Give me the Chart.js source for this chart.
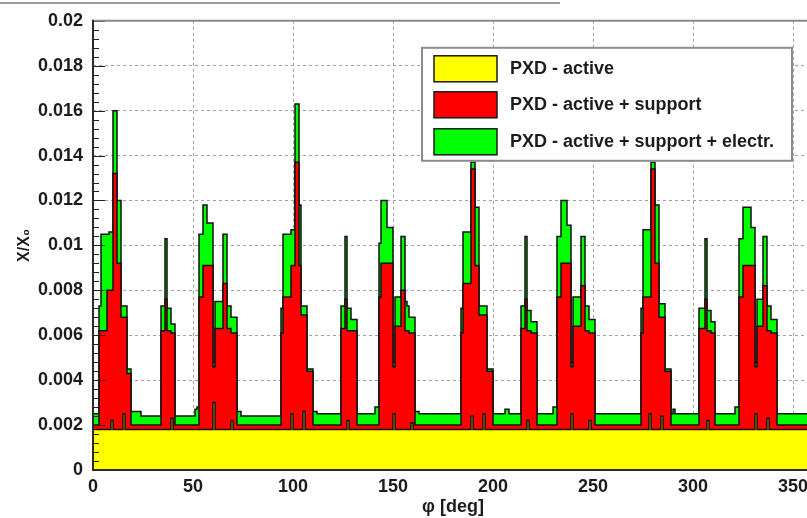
<!DOCTYPE html>
<html>
<head>
<meta charset="utf-8">
<script src="https://cdn.jsdelivr.net/npm/chart.js@4.4.1/dist/chart.umd.min.js"></script>
<style>
  html, body { margin: 0; padding: 0; background: #ffffff; overflow: hidden; }
  #wrap { position: relative; width: 822px; height: 518px; }
</style>
</head>
<body>
<div id="wrap"><canvas id="chart"></canvas></div>
<script>
// Material budget of the PXD versus azimuthal angle phi, in units of X0.
// One-degree bins, lower edges 0..359.
const BIN_WIDTH = 1;

const seriesLabels = [
  'PXD - active',
  'PXD - active + support',
  'PXD - active + support + electr.'
];

// PXD - active (sensitive silicon only)
const activeX0 = [
  0.0018,0.0018,0.0018,0.0018,0.0018,0.0018,0.0018,0.0018,0.0018,0.0018,
  0.0022,0.0018,0.0018,0.0018,0.0018,0.0018,0.0025,0.0018,0.0018,0.0018,
  0.0018,0.0018,0.0018,0.0018,0.0018,0.0018,0.0018,0.0018,0.0018,0.0018,
  0.0018,0.0018,0.0018,0.0018,0.0018,0.0018,0.0018,0.0018,0.0018,0.0018,
  0.0023,0.0018,0.0018,0.0018,0.0018,0.0018,0.0018,0.0018,0.0018,0.0018,
  0.0018,0.0018,0.0018,0.0018,0.0018,0.0018,0.0018,0.0018,0.0018,0.0018,
  0.0018,0.0030,0.0018,0.0018,0.0018,0.0018,0.0018,0.0018,0.0018,0.0018,
  0.0022,0.0018,0.0018,0.0018,0.0018,0.0018,0.0018,0.0018,0.0018,0.0018,
  0.0018,0.0018,0.0018,0.0018,0.0018,0.0018,0.0018,0.0018,0.0018,0.0018,
  0.0018,0.0018,0.0018,0.0018,0.0018,0.0018,0.0018,0.0018,0.0018,0.0018,
  0.0025,0.0018,0.0018,0.0018,0.0018,0.0018,0.0026,0.0018,0.0018,0.0018,
  0.0018,0.0018,0.0018,0.0018,0.0018,0.0018,0.0018,0.0018,0.0018,0.0018,
  0.0018,0.0018,0.0018,0.0018,0.0018,0.0018,0.0018,0.0018,0.0022,0.0018,
  0.0018,0.0018,0.0018,0.0018,0.0018,0.0018,0.0018,0.0018,0.0018,0.0018,
  0.0018,0.0018,0.0018,0.0018,0.0018,0.0018,0.0018,0.0018,0.0018,0.0018,
  0.0018,0.0025,0.0018,0.0018,0.0018,0.0018,0.0018,0.0018,0.0018,0.0018,
  0.0021,0.0018,0.0018,0.0018,0.0018,0.0018,0.0018,0.0018,0.0018,0.0018,
  0.0018,0.0018,0.0018,0.0018,0.0018,0.0018,0.0018,0.0018,0.0018,0.0018,
  0.0018,0.0018,0.0018,0.0018,0.0018,0.0018,0.0018,0.0018,0.0018,0.0018,
  0.0024,0.0018,0.0018,0.0018,0.0018,0.0018,0.0025,0.0018,0.0018,0.0018,
  0.0018,0.0018,0.0018,0.0018,0.0018,0.0018,0.0018,0.0018,0.0018,0.0018,
  0.0018,0.0018,0.0018,0.0018,0.0018,0.0018,0.0018,0.0018,0.0022,0.0018,
  0.0018,0.0018,0.0018,0.0018,0.0018,0.0018,0.0018,0.0018,0.0018,0.0018,
  0.0018,0.0018,0.0018,0.0018,0.0018,0.0018,0.0018,0.0018,0.0018,0.0018,
  0.0025,0.0018,0.0018,0.0018,0.0018,0.0018,0.0018,0.0018,0.0018,0.0022,
  0.0018,0.0018,0.0018,0.0018,0.0018,0.0018,0.0018,0.0018,0.0018,0.0018,
  0.0018,0.0018,0.0018,0.0018,0.0018,0.0018,0.0018,0.0018,0.0018,0.0018,
  0.0018,0.0018,0.0018,0.0018,0.0018,0.0018,0.0018,0.0018,0.0018,0.0025,
  0.0018,0.0018,0.0018,0.0018,0.0018,0.0024,0.0018,0.0018,0.0018,0.0018,
  0.0018,0.0018,0.0018,0.0018,0.0018,0.0018,0.0018,0.0018,0.0018,0.0018,
  0.0018,0.0018,0.0018,0.0018,0.0018,0.0018,0.0018,0.0018,0.0022,0.0018,
  0.0018,0.0018,0.0018,0.0018,0.0018,0.0018,0.0018,0.0018,0.0018,0.0018,
  0.0018,0.0018,0.0018,0.0018,0.0018,0.0018,0.0018,0.0018,0.0018,0.0018,
  0.0018,0.0018,0.0025,0.0018,0.0018,0.0018,0.0018,0.0018,0.0023,0.0018,
  0.0018,0.0018,0.0018,0.0018,0.0018,0.0018,0.0018,0.0018,0.0018,0.0018,
  0.0018,0.0018,0.0018,0.0018,0.0018,0.0018,0.0018,0.0018,0.0018,0.0018
];

// PXD - active + support
const supportX0 = [
  0.0020,0.0020,0.0020,0.0020,0.0062,0.0062,0.0062,0.0062,0.0080,0.0080,
  0.0080,0.0132,0.0132,0.0092,0.0092,0.0068,0.0068,0.0068,0.0043,0.0043,
  0.0020,0.0020,0.0020,0.0020,0.0020,0.0020,0.0020,0.0020,0.0020,0.0020,
  0.0020,0.0020,0.0020,0.0020,0.0020,0.0062,0.0062,0.0076,0.0062,0.0062,
  0.0061,0.0061,0.0020,0.0020,0.0020,0.0020,0.0020,0.0020,0.0020,0.0020,
  0.0020,0.0020,0.0020,0.0020,0.0077,0.0077,0.0091,0.0091,0.0091,0.0091,
  0.0091,0.0046,0.0063,0.0063,0.0063,0.0063,0.0083,0.0083,0.0063,0.0063,
  0.0061,0.0061,0.0061,0.0020,0.0020,0.0020,0.0020,0.0020,0.0020,0.0020,
  0.0020,0.0020,0.0020,0.0020,0.0020,0.0020,0.0020,0.0020,0.0020,0.0020,
  0.0020,0.0020,0.0020,0.0020,0.0020,0.0061,0.0077,0.0077,0.0077,0.0077,
  0.0091,0.0091,0.0137,0.0137,0.0091,0.0069,0.0069,0.0069,0.0044,0.0044,
  0.0044,0.0020,0.0020,0.0020,0.0020,0.0020,0.0020,0.0020,0.0020,0.0020,
  0.0020,0.0020,0.0020,0.0020,0.0020,0.0063,0.0063,0.0076,0.0062,0.0062,
  0.0062,0.0062,0.0062,0.0020,0.0020,0.0020,0.0020,0.0020,0.0020,0.0020,
  0.0020,0.0020,0.0020,0.0020,0.0077,0.0092,0.0092,0.0092,0.0092,0.0092,
  0.0092,0.0046,0.0064,0.0064,0.0064,0.0080,0.0080,0.0062,0.0062,0.0061,
  0.0061,0.0061,0.0020,0.0020,0.0020,0.0020,0.0020,0.0020,0.0020,0.0020,
  0.0020,0.0020,0.0020,0.0020,0.0020,0.0020,0.0020,0.0020,0.0020,0.0020,
  0.0020,0.0020,0.0020,0.0020,0.0020,0.0061,0.0083,0.0083,0.0083,0.0083,
  0.0134,0.0134,0.0091,0.0091,0.0069,0.0069,0.0069,0.0069,0.0044,0.0044,
  0.0044,0.0020,0.0020,0.0020,0.0020,0.0020,0.0020,0.0020,0.0020,0.0020,
  0.0020,0.0020,0.0020,0.0020,0.0020,0.0063,0.0063,0.0076,0.0062,0.0062,
  0.0061,0.0061,0.0061,0.0020,0.0020,0.0020,0.0020,0.0020,0.0020,0.0020,
  0.0020,0.0020,0.0020,0.0077,0.0077,0.0092,0.0092,0.0092,0.0092,0.0092,
  0.0046,0.0064,0.0064,0.0064,0.0064,0.0082,0.0082,0.0062,0.0062,0.0061,
  0.0061,0.0061,0.0020,0.0020,0.0020,0.0020,0.0020,0.0020,0.0020,0.0020,
  0.0020,0.0020,0.0020,0.0020,0.0020,0.0020,0.0020,0.0020,0.0020,0.0020,
  0.0020,0.0020,0.0020,0.0020,0.0020,0.0061,0.0077,0.0077,0.0077,0.0077,
  0.0134,0.0134,0.0092,0.0092,0.0068,0.0068,0.0068,0.0044,0.0044,0.0044,
  0.0020,0.0020,0.0020,0.0020,0.0020,0.0020,0.0020,0.0020,0.0020,0.0020,
  0.0020,0.0020,0.0020,0.0020,0.0063,0.0063,0.0063,0.0076,0.0062,0.0062,
  0.0061,0.0061,0.0020,0.0020,0.0020,0.0020,0.0020,0.0020,0.0020,0.0020,
  0.0020,0.0020,0.0020,0.0020,0.0077,0.0077,0.0091,0.0091,0.0091,0.0091,
  0.0091,0.0091,0.0046,0.0064,0.0064,0.0064,0.0082,0.0082,0.0062,0.0062,
  0.0061,0.0061,0.0061,0.0020,0.0020,0.0020,0.0020,0.0020,0.0020,0.0020,
  0.0020,0.0020,0.0020,0.0020,0.0020,0.0020,0.0020,0.0020,0.0020,0.0020
];

// PXD - active + support + electronics
const electrX0 = [
  0.0025,0.0025,0.0025,0.0025,0.0073,0.0105,0.0105,0.0105,0.0105,0.0106,
  0.0106,0.0160,0.0160,0.0120,0.0120,0.0073,0.0073,0.0073,0.0045,0.0045,
  0.0026,0.0026,0.0026,0.0026,0.0026,0.0024,0.0024,0.0024,0.0024,0.0024,
  0.0024,0.0024,0.0024,0.0024,0.0024,0.0073,0.0073,0.0103,0.0072,0.0072,
  0.0065,0.0065,0.0024,0.0024,0.0024,0.0024,0.0024,0.0024,0.0024,0.0024,
  0.0024,0.0024,0.0027,0.0028,0.0105,0.0105,0.0118,0.0118,0.0110,0.0110,
  0.0110,0.0048,0.0075,0.0075,0.0075,0.0075,0.0105,0.0105,0.0073,0.0073,
  0.0068,0.0068,0.0068,0.0026,0.0026,0.0024,0.0024,0.0024,0.0024,0.0024,
  0.0024,0.0024,0.0024,0.0024,0.0024,0.0024,0.0024,0.0024,0.0024,0.0024,
  0.0024,0.0024,0.0024,0.0024,0.0024,0.0072,0.0105,0.0105,0.0105,0.0105,
  0.0107,0.0107,0.0163,0.0163,0.0118,0.0073,0.0073,0.0073,0.0045,0.0045,
  0.0045,0.0026,0.0026,0.0025,0.0025,0.0025,0.0025,0.0025,0.0025,0.0025,
  0.0025,0.0025,0.0025,0.0025,0.0025,0.0073,0.0073,0.0104,0.0072,0.0072,
  0.0067,0.0067,0.0067,0.0025,0.0025,0.0025,0.0025,0.0025,0.0025,0.0025,
  0.0025,0.0025,0.0028,0.0028,0.0101,0.0120,0.0120,0.0120,0.0108,0.0108,
  0.0108,0.0048,0.0077,0.0077,0.0077,0.0104,0.0104,0.0075,0.0073,0.0068,
  0.0068,0.0068,0.0026,0.0026,0.0025,0.0025,0.0025,0.0025,0.0025,0.0025,
  0.0025,0.0025,0.0025,0.0025,0.0025,0.0025,0.0025,0.0025,0.0025,0.0025,
  0.0025,0.0025,0.0025,0.0025,0.0025,0.0072,0.0106,0.0106,0.0106,0.0106,
  0.0137,0.0137,0.0117,0.0117,0.0073,0.0073,0.0073,0.0073,0.0045,0.0045,
  0.0045,0.0025,0.0025,0.0025,0.0025,0.0025,0.0025,0.0027,0.0027,0.0025,
  0.0025,0.0025,0.0025,0.0025,0.0025,0.0073,0.0073,0.0104,0.0071,0.0071,
  0.0066,0.0066,0.0066,0.0025,0.0025,0.0025,0.0025,0.0025,0.0025,0.0025,
  0.0025,0.0028,0.0028,0.0104,0.0104,0.0120,0.0120,0.0120,0.0109,0.0109,
  0.0048,0.0077,0.0077,0.0077,0.0077,0.0104,0.0104,0.0073,0.0073,0.0067,
  0.0067,0.0067,0.0025,0.0025,0.0025,0.0025,0.0025,0.0025,0.0025,0.0025,
  0.0025,0.0025,0.0025,0.0025,0.0025,0.0025,0.0025,0.0025,0.0025,0.0025,
  0.0025,0.0025,0.0025,0.0025,0.0025,0.0072,0.0107,0.0107,0.0107,0.0107,
  0.0137,0.0137,0.0118,0.0118,0.0074,0.0074,0.0074,0.0045,0.0045,0.0045,
  0.0025,0.0027,0.0025,0.0025,0.0025,0.0025,0.0025,0.0025,0.0025,0.0025,
  0.0025,0.0025,0.0025,0.0025,0.0072,0.0072,0.0072,0.0103,0.0071,0.0071,
  0.0066,0.0066,0.0025,0.0025,0.0025,0.0025,0.0025,0.0025,0.0025,0.0025,
  0.0025,0.0025,0.0028,0.0028,0.0103,0.0103,0.0117,0.0117,0.0117,0.0117,
  0.0108,0.0108,0.0048,0.0076,0.0076,0.0076,0.0104,0.0104,0.0073,0.0073,
  0.0067,0.0067,0.0067,0.0025,0.0025,0.0025,0.0025,0.0025,0.0025,0.0025,
  0.0025,0.0025,0.0025,0.0025,0.0025,0.0025,0.0025,0.0025,0.0025,0.0025
];

// Axis settings
const PHI_MIN = 0, PHI_MAX = 360, PHI_STEP = 50;
const X0_MIN = 0, X0_MAX = 0.02, X0_STEP = 0.002, X0_MINOR = 0.0004;

const fillColors = ['#ffff00', '#ff0000', '#00ff00'];
const FONT = "'Liberation Sans', Arial, Helvetica, sans-serif";
const TEXT = '#1c1c1c';

// histogram bins -> step points (last edge repeats the last bin content)
function histPoints(values) {
  const pts = values.map((v, i) => ({ x: PHI_MIN + i * BIN_WIDTH, y: v }));
  pts.push({ x: PHI_MIN + values.length * BIN_WIDTH, y: values[values.length - 1] });
  return pts;
}

// frame, inward ticks and the small page rule above the pad
const framePlugin = {
  id: 'rootFrame',
  afterDatasetsDraw(chart) {
    const { ctx, chartArea: a, scales } = chart;
    const ys = scales.y;
    ctx.save();
    // inward ticks on the y axis
    ctx.strokeStyle = '#222';
    ctx.lineWidth = 1;
    const nMinor = Math.round((X0_MAX - X0_MIN) / X0_MINOR);
    const perMajor = Math.round(X0_STEP / X0_MINOR);
    for (let k = 0; k <= nMinor; k++) {
      const v = X0_MIN + k * X0_MINOR;
      const py = Math.round(ys.getPixelForValue(v)) + 0.5;
      const major = k % perMajor === 0;
      ctx.beginPath();
      ctx.moveTo(a.left, py);
      ctx.lineTo(a.left + (major ? 12 : 6), py);
      ctx.stroke();
    }
    // frame lines
    ctx.strokeStyle = '#8a8a8a';
    ctx.lineWidth = 2;
    ctx.beginPath();
    ctx.moveTo(a.left, a.top);
    ctx.lineTo(a.right, a.top);
    ctx.stroke();
    ctx.strokeStyle = '#2a2a2a';
    ctx.lineWidth = 2;
    ctx.beginPath();
    ctx.moveTo(a.left, a.top - 1);
    ctx.lineTo(a.left, a.bottom);
    ctx.lineTo(a.right, a.bottom);
    ctx.stroke();
    ctx.restore();
  },
  afterDraw(chart) {
    const ctx = chart.ctx;
    ctx.save();
    ctx.strokeStyle = '#9a9a9a';
    ctx.lineWidth = 2;
    ctx.beginPath();
    ctx.moveTo(0, 3);
    ctx.lineTo(560, 3);
    ctx.stroke();
    ctx.restore();
  }
};

// boxed legend inside the pad, upper right
const boxLegend = {
  id: 'boxLegend',
  afterDatasetsDraw(chart) {
    const { ctx, chartArea: a } = chart;
    const bx = a.left + 329, by = a.top + 27, bw = 370, bh = 113;
    ctx.save();
    ctx.fillStyle = '#ffffff';
    ctx.fillRect(bx, by, bw, bh);
    ctx.strokeStyle = '#8c8c8c';
    ctx.lineWidth = 2;
    ctx.strokeRect(bx, by, bw, bh);
    const rows = [by + 8, by + 44, by + 81];
    chart.data.datasets.forEach((ds, i) => {
      const ry = rows[i];
      ctx.fillStyle = ds.backgroundColor;
      ctx.fillRect(bx + 12, ry, 63, 26);
      ctx.strokeStyle = '#1a1a1a';
      ctx.lineWidth = 1.5;
      ctx.strokeRect(bx + 12, ry, 63, 26);
      ctx.fillStyle = TEXT;
      ctx.font = 'bold 18px ' + FONT;
      ctx.textBaseline = 'middle';
      ctx.textAlign = 'left';
      ctx.fillText(ds.label, bx + 88, ry + 13);
    });
    ctx.restore();
  }
};

const datasets = [activeX0, supportX0, electrX0].map((vals, i) => ({
  label: seriesLabels[i],
  data: histPoints(vals),
  stepped: 'after',
  fill: 'origin',
  backgroundColor: fillColors[i],
  borderColor: '#111111',
  borderWidth: 1.5,
  pointRadius: 0,
  pointHoverRadius: 0
}));

new Chart(document.getElementById('chart'), {
  type: 'line',
  data: { datasets },
  plugins: [framePlugin, boxLegend],
  options: {
    responsive: true,
    maintainAspectRatio: false,
    animation: false,
    events: [],
    layout: { padding: { top: 20, right: 9, bottom: 0, left: 0 } },
    plugins: { legend: { display: false }, tooltip: { enabled: false } },
    scales: {
      x: {
        type: 'linear',
        min: PHI_MIN,
        max: PHI_MAX,
        afterFit(scale) { scale.height = 48; },
        ticks: {
          stepSize: PHI_STEP,
          includeBounds: false,
          maxRotation: 0,
          padding: 6,
          color: TEXT,
          font: { family: FONT, size: 18, weight: 'bold' }
        },
        grid: { color: '#a0a0a0', lineWidth: 1, drawTicks: false },
        border: { display: false, dash: [3, 3] },
        title: {
          display: true,
          text: 'φ [deg]',
          color: TEXT,
          font: { family: FONT, size: 18, weight: 'bold' },
          padding: { top: 0, bottom: 0 }
        }
      },
      y: {
        min: X0_MIN,
        max: X0_MAX,
        afterFit(scale) { scale.width = 93; },
        ticks: {
          stepSize: X0_STEP,
          padding: 10,
          color: TEXT,
          font: { family: FONT, size: 18, weight: 'bold' },
          callback: (v) => String(parseFloat(Number(v).toFixed(4)))
        },
        grid: { color: '#a0a0a0', lineWidth: 1, drawTicks: false },
        border: { display: false, dash: [3, 3] },
        title: {
          display: true,
          text: 'X/X₀',
          color: TEXT,
          font: { family: FONT, size: 16, weight: 'bold' },
          padding: { top: 15, bottom: 0 }
        }
      }
    }
  }
});
</script>
</body>
</html>
